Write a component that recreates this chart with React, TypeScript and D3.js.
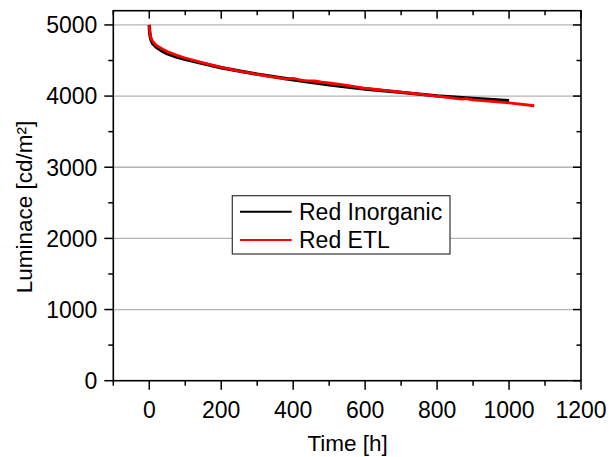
import React from "react";
import * as d3 from "d3";

const inorgTime = [0, 1, 3, 6, 10, 20, 35, 50, 75, 100, 150, 200, 300, 400, 500, 600, 700, 800, 900, 1000];
const inorgLum = [5000, 4900, 4830, 4775, 4735, 4685, 4635, 4595, 4550, 4515, 4455, 4398, 4308, 4230, 4160, 4100, 4052, 4003, 3966, 3936];

const etlTime = [0, 1, 3, 6, 10, 20, 35, 50, 75, 100, 150, 200, 250, 300, 350, 370, 380, 400, 420, 430, 460, 480, 500, 550, 600, 700, 800, 850, 870, 880, 900, 1000, 1070];
const etlLum = [5000, 4920, 4850, 4800, 4765, 4712, 4665, 4625, 4575, 4535, 4468, 4405, 4352, 4305, 4262, 4250, 4238, 4248, 4226, 4218, 4212, 4195, 4184, 4150, 4110, 4055, 4000, 3967, 3958, 3965, 3948, 3905, 3864];

const xTicks = [0, 200, 400, 600, 800, 1000, 1200];
const yTicks = [0, 1000, 2000, 3000, 4000, 5000];
const seriesNames = ["Red Inorganic", "Red ETL"];
const seriesColors = ["#000000", "#ff0000"];

export default function App() {
  const W = 609, H = 457;
  const L = 113.3, R = 581, T = 10.7, B = 380.7;
  const x = d3.scaleLinear().domain([-100, 1200]).range([L, R]);
  const y = d3.scaleLinear().domain([0, 5200]).range([B, T]);
  const line = d3.line<[number, number]>().x(d => x(d[0])).y(d => y(d[1]));
  const inorg = inorgTime.map((t, i) => [t, inorgLum[i]] as [number, number]);
  const etl = etlTime.map((t, i) => [t, etlLum[i]] as [number, number]);
  const xMinor = d3.range(-100, 1201, 100).filter(v => v % 200 !== 0);
  const yMinor = d3.range(500, 5200, 1000);
  const font = "'Liberation Sans', Arial, sans-serif";
  const fs = 23;
  const lgX = 232.3, lgY = 195.7, lgW = 217.7, lgH = 58.3;
  return (
    <svg width={W} height={H} style={{ position: "absolute", left: 0, top: 0, background: "#fff" }} fontFamily={font}>
      <rect x={0} y={0} width={W} height={H} fill="#fff" />
      {yTicks.filter(v => v > 0).map(v => (
        <line key={"g" + v} x1={L} x2={R} y1={y(v)} y2={y(v)} stroke="#b4b4b4" strokeWidth={1.3} />
      ))}
      <path d={line(inorg) || ""} fill="none" stroke={seriesColors[0]} strokeWidth={3.4} strokeLinejoin="round" />
      <path d={line(etl) || ""} fill="none" stroke={seriesColors[1]} strokeWidth={2.8} strokeLinejoin="round" />
      <rect x={L} y={T} width={R - L} height={B - T} fill="none" stroke="#000" strokeWidth={1.6} />
      {xTicks.map(v => (
        <g key={"xt" + v}>
          <line x1={x(v)} x2={x(v)} y1={B} y2={B + 9} stroke="#000" strokeWidth={1.5} />
          <line x1={x(v)} x2={x(v)} y1={T} y2={T + 8} stroke="#000" strokeWidth={1.5} />
          <text x={x(v)} y={B + 37} textAnchor="middle" fontSize={fs} fill="#000">{v}</text>
        </g>
      ))}
      {xMinor.map(v => (
        <g key={"xm" + v}>
          <line x1={x(v)} x2={x(v)} y1={B} y2={B + 5} stroke="#000" strokeWidth={1.5} />
          <line x1={x(v)} x2={x(v)} y1={T} y2={T + 4.5} stroke="#000" strokeWidth={1.5} />
        </g>
      ))}
      {yTicks.map(v => (
        <g key={"yt" + v}>
          <line x1={L - 9} x2={L} y1={y(v)} y2={y(v)} stroke="#000" strokeWidth={1.5} />
          <line x1={R - 8} x2={R} y1={y(v)} y2={y(v)} stroke="#000" strokeWidth={1.5} />
          <text x={L - 16} y={y(v)} dy="0.36em" textAnchor="end" fontSize={fs} fill="#000">{v}</text>
        </g>
      ))}
      {yMinor.map(v => (
        <g key={"ym" + v}>
          <line x1={L - 5} x2={L} y1={y(v)} y2={y(v)} stroke="#000" strokeWidth={1.5} />
          <line x1={R - 4.5} x2={R} y1={y(v)} y2={y(v)} stroke="#000" strokeWidth={1.5} />
        </g>
      ))}
      <text x={(L + R) / 2 + 0.5} y={451} textAnchor="middle" fontSize={22.5} fill="#000">Time [h]</text>
      <text transform={`translate(32,207) rotate(-90)`} textAnchor="middle" fontSize={22.5} fill="#000">Luminace [cd/m²]</text>
      <rect x={lgX} y={lgY} width={lgW} height={lgH} fill="#fff" stroke="#333" strokeWidth={1.2} />
      {seriesNames.map((n, i) => (
        <g key={n}>
          <line x1={240} x2={291.7} y1={lgY + 16 + i * 28.3} y2={lgY + 16 + i * 28.3} stroke={seriesColors[i]} strokeWidth={2} />
          <text x={299} y={lgY + 16 + i * 28.3} dy="0.36em" fontSize={fs} fill="#000">{n}</text>
        </g>
      ))}
    </svg>
  );
}
